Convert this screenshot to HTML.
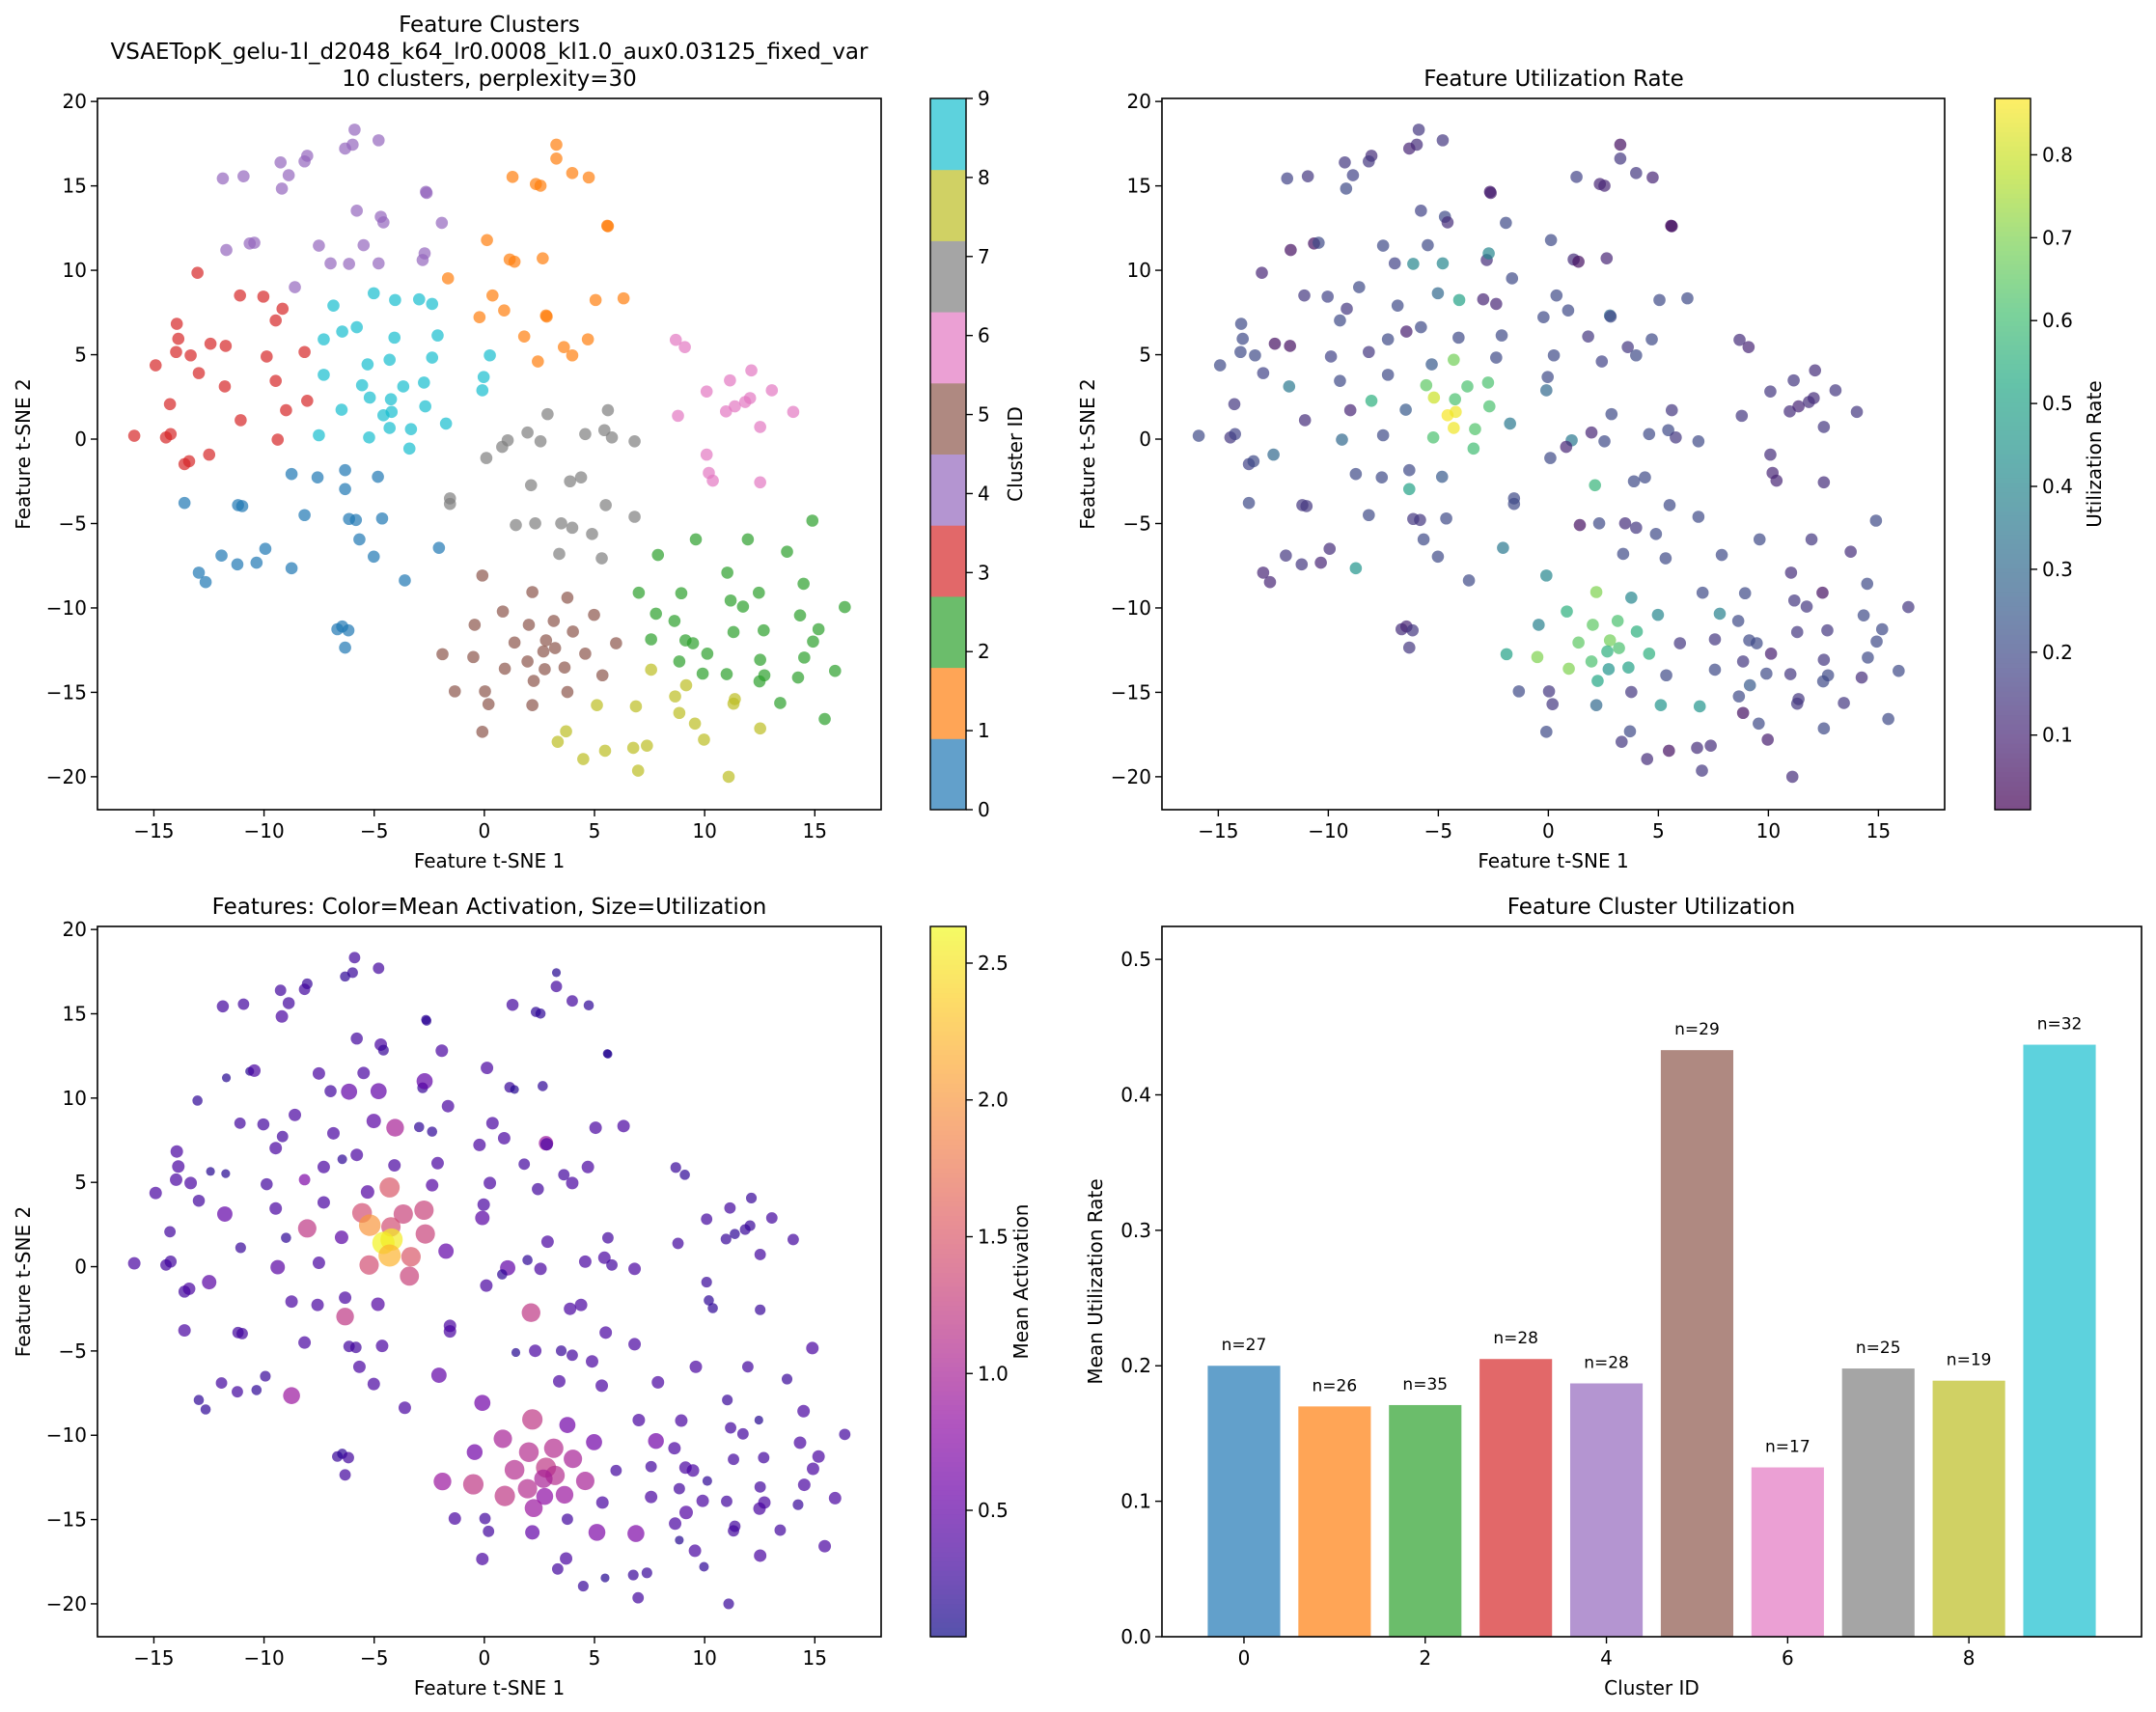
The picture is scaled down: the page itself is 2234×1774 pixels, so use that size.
<!DOCTYPE html>
<html><head><meta charset="utf-8"><style>
html,body{margin:0;padding:0;background:#fff;}
svg{display:block;font-family:"DejaVu Sans","Liberation Sans",sans-serif;}
</style></head><body>
<svg id="fig" width="2234" height="1774" viewBox="0 0 2234 1774" xmlns="http://www.w3.org/2000/svg"></svg>
<script>
// ---- data (cluster order: 4,1,3,9,0,7,6,5,2,8) ----
const tsneX = [
-5.89,-4.80,-5.98,-6.32,-8.04,-8.16,-9.25,-8.88,-9.19,-11.87,-10.93,-2.65,-2.62,-5.79,-4.70,-4.58,-1.93,-11.71,-10.65,-10.44,-7.51,-5.48,-6.98,-6.14,-4.80,-2.80,-2.71,-8.60,
3.27,3.27,1.28,2.34,2.55,3.99,4.74,5.58,5.61,0.12,1.15,1.37,2.65,-1.65,0.37,5.05,6.32,-0.22,0.90,2.80,2.83,1.81,3.61,4.70,3.99,2.43,
-13.02,-11.09,-10.03,-9.16,-9.47,-13.96,-13.89,-12.43,-11.74,-13.99,-13.33,-9.88,-8.16,-14.92,-12.96,-11.78,-9.47,-8.04,-9.00,-14.27,-11.06,-15.89,-14.45,-14.24,-9.38,-12.49,-13.61,-13.40,
-5.02,-6.85,-4.05,-2.96,-2.37,-7.29,-6.45,-5.79,-4.08,-2.12,-5.30,-4.30,-2.37,-7.29,0.25,-0.03,-5.55,-3.68,-2.74,-5.20,-4.24,-6.48,-2.68,-0.09,-4.58,-4.21,-7.51,-5.23,-4.30,-3.33,-1.74,-3.40,
-8.75,-7.57,-6.32,-4.83,-6.32,-13.61,-11.18,-10.99,-8.16,-6.14,-5.83,-4.64,-5.67,-9.94,-11.93,-11.21,-10.34,-5.02,-2.06,-8.75,-12.96,-12.65,-3.61,-6.67,-6.45,-6.17,-6.32,
2.87,5.61,1.96,1.06,0.81,2.55,0.09,4.58,5.45,5.79,6.82,2.12,3.89,4.39,-1.56,-1.56,5.51,6.82,1.43,2.31,3.49,3.99,4.89,3.40,5.33,
8.69,9.10,12.12,11.15,13.05,10.09,8.79,10.97,11.37,11.84,12.06,14.02,12.52,10.09,10.19,10.37,12.52,
-0.09,2.18,3.77,0.84,3.15,4.98,-0.44,2.02,4.02,1.37,2.80,3.21,5.98,-1.90,-0.50,2.68,4.58,1.96,0.93,2.74,3.64,5.36,2.24,-1.34,0.03,3.77,0.19,2.18,-0.09,
14.89,9.60,11.96,13.74,7.88,11.03,14.49,7.01,8.94,12.46,11.18,11.74,16.36,7.79,8.63,14.33,11.31,12.68,15.17,7.57,9.13,9.47,14.92,10.12,14.52,8.85,12.52,9.91,11.00,12.71,14.24,12.49,15.92,13.43,15.45,
7.57,8.66,9.16,11.37,11.31,5.11,6.88,8.85,9.56,12.52,3.71,3.33,7.38,6.76,9.97,5.48,4.49,6.98,11.09];
const tsneY = [
18.33,17.70,17.44,17.21,16.78,16.45,16.39,15.63,14.84,15.44,15.57,14.65,14.58,13.53,13.17,12.84,12.81,11.20,11.59,11.63,11.46,11.49,10.41,10.38,10.41,10.61,11.00,9.00,
17.44,16.62,15.53,15.11,15.01,15.76,15.50,12.64,12.61,11.79,10.64,10.51,10.71,9.52,8.51,8.24,8.34,7.22,7.62,7.32,7.26,6.08,5.45,5.91,4.96,4.60,
9.85,8.51,8.44,7.72,7.03,6.83,5.94,5.65,5.52,5.16,4.96,4.89,5.16,4.37,3.91,3.12,3.45,2.27,1.71,2.07,1.12,0.20,0.10,0.30,-0.03,-0.92,-1.48,-1.31,
8.64,7.91,8.24,8.28,8.01,5.91,6.37,6.63,6.01,6.14,4.43,4.70,4.83,3.81,4.96,3.68,3.19,3.12,3.35,2.46,2.36,1.74,1.94,2.89,1.41,1.61,0.23,0.10,0.66,0.59,0.92,-0.56,
-2.07,-2.27,-1.84,-2.23,-2.96,-3.78,-3.91,-3.97,-4.50,-4.73,-4.79,-4.70,-5.94,-6.50,-6.90,-7.42,-7.32,-6.96,-6.44,-7.65,-7.91,-8.47,-8.37,-11.26,-11.10,-11.33,-12.35,
1.48,1.71,0.39,-0.07,-0.46,-0.13,-1.12,0.30,0.53,0.10,-0.13,-2.73,-2.50,-2.27,-3.51,-3.84,-3.91,-4.60,-5.09,-4.99,-4.99,-5.25,-5.62,-6.80,-7.06,
5.88,5.45,4.07,3.48,2.89,2.82,1.38,1.64,1.94,2.20,2.43,1.61,0.72,-0.92,-2.00,-2.46,-2.56,
-8.08,-9.06,-9.39,-10.21,-10.77,-10.41,-11.00,-11.00,-11.40,-12.05,-11.92,-12.38,-12.09,-12.74,-12.91,-12.58,-12.71,-13.17,-13.60,-13.63,-13.53,-13.99,-14.32,-14.94,-14.94,-14.98,-15.70,-15.76,-17.34,
-4.83,-5.94,-5.94,-6.67,-6.86,-7.91,-8.57,-9.10,-9.13,-9.10,-9.56,-9.92,-9.95,-10.34,-10.77,-10.44,-11.43,-11.33,-11.26,-11.86,-11.92,-12.09,-11.99,-12.71,-12.94,-13.17,-13.07,-13.89,-13.92,-13.99,-14.12,-14.35,-13.73,-15.63,-16.58,
-13.66,-15.24,-14.58,-15.40,-15.67,-15.76,-15.83,-16.22,-16.85,-17.14,-17.31,-17.93,-18.16,-18.29,-17.80,-18.46,-18.95,-19.64,-20.00];
const clusterId = [
4,4,4,4,4,4,4,4,4,4,4,4,4,4,4,4,4,4,4,4,4,4,4,4,4,4,4,4,
1,1,1,1,1,1,1,1,1,1,1,1,1,1,1,1,1,1,1,1,1,1,1,1,1,1,
3,3,3,3,3,3,3,3,3,3,3,3,3,3,3,3,3,3,3,3,3,3,3,3,3,3,3,3,
9,9,9,9,9,9,9,9,9,9,9,9,9,9,9,9,9,9,9,9,9,9,9,9,9,9,9,9,9,9,9,9,
0,0,0,0,0,0,0,0,0,0,0,0,0,0,0,0,0,0,0,0,0,0,0,0,0,0,0,
7,7,7,7,7,7,7,7,7,7,7,7,7,7,7,7,7,7,7,7,7,7,7,7,7,
6,6,6,6,6,6,6,6,6,6,6,6,6,6,6,6,6,
5,5,5,5,5,5,5,5,5,5,5,5,5,5,5,5,5,5,5,5,5,5,5,5,5,5,5,5,5,
2,2,2,2,2,2,2,2,2,2,2,2,2,2,2,2,2,2,2,2,2,2,2,2,2,2,2,2,2,2,2,2,2,2,2,
8,8,8,8,8,8,8,8,8,8,8,8,8,8,8,8,8,8,8];
const utilization = [
0.15,0.15,0.12,0.1,0.12,0.15,0.15,0.18,0.2,0.18,0.15,0.08,0.08,0.18,0.2,0.12,0.2,0.05,0.05,0.2,0.2,0.2,0.18,0.4,0.4,0.12,0.4,0.2,
0.05,0.15,0.18,0.1,0.1,0.15,0.1,0.05,0.05,0.2,0.12,0.05,0.1,0.2,0.2,0.2,0.2,0.2,0.2,0.3,0.2,0.15,0.15,0.2,0.2,0.18,
0.1,0.15,0.18,0.15,0.2,0.2,0.2,0.05,0.05,0.2,0.2,0.18,0.15,0.2,0.18,0.35,0.2,0.55,0.1,0.15,0.12,0.2,0.15,0.18,0.3,0.3,0.18,0.2,
0.3,0.2,0.5,0.1,0.1,0.2,0.08,0.2,0.2,0.2,0.25,0.68,0.2,0.2,0.2,0.2,0.65,0.62,0.62,0.8,0.62,0.25,0.62,0.3,0.86,0.85,0.2,0.62,0.85,0.63,0.35,0.6,
0.2,0.2,0.2,0.25,0.5,0.2,0.15,0.15,0.2,0.15,0.15,0.2,0.2,0.12,0.15,0.15,0.1,0.2,0.35,0.45,0.1,0.1,0.2,0.12,0.1,0.15,0.15,
0.2,0.15,0.1,0.35,0.1,0.2,0.2,0.2,0.2,0.15,0.2,0.57,0.2,0.2,0.2,0.2,0.2,0.2,0.05,0.2,0.12,0.15,0.2,0.2,0.2,
0.12,0.1,0.12,0.15,0.15,0.15,0.15,0.12,0.1,0.12,0.12,0.15,0.15,0.12,0.1,0.1,0.12,
0.4,0.7,0.4,0.55,0.62,0.4,0.38,0.65,0.55,0.65,0.68,0.62,0.15,0.5,0.7,0.55,0.55,0.62,0.7,0.45,0.5,0.2,0.52,0.2,0.15,0.15,0.15,0.3,0.2,
0.2,0.2,0.15,0.12,0.2,0.12,0.2,0.2,0.2,0.05,0.15,0.15,0.15,0.38,0.2,0.2,0.15,0.15,0.2,0.15,0.2,0.2,0.2,0.08,0.2,0.15,0.15,0.2,0.15,0.2,0.12,0.2,0.2,0.15,0.2,
0.2,0.2,0.25,0.15,0.15,0.45,0.45,0.05,0.2,0.2,0.2,0.15,0.12,0.12,0.08,0.05,0.12,0.15,0.12];
const meanActivation = [
0.3,0.3,0.25,0.2,0.25,0.3,0.3,0.3,0.35,0.3,0.3,0.2,0.2,0.3,0.35,0.25,0.35,0.15,0.15,0.35,0.35,0.35,0.3,0.5,0.5,0.25,0.5,0.35,
0.15,0.3,0.3,0.2,0.2,0.3,0.2,0.15,0.15,0.35,0.25,0.15,0.2,0.35,0.35,0.35,0.35,0.35,0.35,0.9,0.35,0.3,0.3,0.35,0.35,0.3,
0.2,0.3,0.3,0.3,0.35,0.35,0.35,0.15,0.15,0.35,0.35,0.3,0.7,0.35,0.3,0.5,0.35,1.2,0.2,0.3,0.25,0.35,0.3,0.3,0.45,0.45,0.3,0.35,
0.45,0.35,1.0,0.2,0.2,0.35,0.2,0.35,0.35,0.35,0.4,1.5,0.4,0.35,0.35,0.35,1.4,1.3,1.3,2.0,1.4,0.45,1.3,0.45,2.6,2.55,0.35,1.4,2.2,1.5,0.5,1.3,
0.35,0.35,0.35,0.4,1.2,0.35,0.3,0.3,0.35,0.3,0.3,0.35,0.35,0.25,0.3,0.3,0.2,0.35,0.5,0.9,0.2,0.2,0.35,0.25,0.2,0.3,0.3,
0.35,0.3,0.2,0.5,0.2,0.35,0.35,0.35,0.35,0.3,0.35,1.2,0.35,0.35,0.35,0.35,0.35,0.35,0.15,0.35,0.25,0.3,0.35,0.35,0.35,
0.25,0.2,0.25,0.3,0.3,0.3,0.3,0.25,0.2,0.25,0.25,0.3,0.3,0.25,0.2,0.2,0.25,
0.6,1.2,0.6,1.0,1.1,0.6,0.6,1.1,1.0,1.1,1.2,1.1,0.3,0.9,1.2,1.0,1.0,1.1,1.2,0.8,0.9,0.35,0.9,0.35,0.3,0.3,0.3,0.5,0.35,
0.35,0.35,0.3,0.25,0.35,0.25,0.35,0.35,0.35,0.15,0.3,0.3,0.3,0.6,0.35,0.35,0.3,0.3,0.35,0.3,0.35,0.35,0.35,0.2,0.35,0.3,0.3,0.35,0.3,0.35,0.25,0.35,0.35,0.3,0.35,
0.35,0.35,0.4,0.3,0.3,0.7,0.7,0.15,0.35,0.35,0.35,0.3,0.25,0.25,0.2,0.15,0.25,0.3,0.25];
const barClusters = [0,1,2,3,4,5,6,7,8,9];
const barValues = [0.200,0.170,0.171,0.205,0.187,0.433,0.125,0.198,0.189,0.437];
const barCounts = ["n=27","n=26","n=35","n=28","n=28","n=29","n=17","n=25","n=19","n=32"];
const scatterXTicks = [-15,-10,-5,0,5,10,15];
const scatterYTicks = [-20,-15,-10,-5,0,5,10,15,20];
const utilTicks = [0.1,0.2,0.3,0.4,0.5,0.6,0.7,0.8];
const actTicks = [0.5,1.0,1.5,2.0,2.5];
const barYTicks = [0.0,0.1,0.2,0.3,0.4,0.5];
const barXTicks = [0,2,4,6,8];

const tab10 = ["#1f77b4","#ff7f0e","#2ca02c","#d62728","#9467bd","#8c564b","#e377c2","#7f7f7f","#bcbd22","#17becf"];
const viridis = ["#440154","#482475","#414487","#355f8d","#2a788e","#21918c","#22a884","#44bf70","#7ad151","#bddf26","#fde725"];
const plasma = ["#0d0887","#41049d","#6a00a8","#8f0da4","#b12a90","#cc4778","#e16462","#f2844b","#fca636","#fcce25","#f0f921"];

const NS = "http://www.w3.org/2000/svg";
const svg = document.getElementById('fig');
function el(tag, attrs, parent){ const e=document.createElementNS(NS,tag); for(const k in attrs) e.setAttribute(k,attrs[k]); (parent||svg).appendChild(e); return e; }
function txt(s, attrs, parent){ const e=el('text',attrs,parent); e.textContent=s; return e; }
function hex2rgb(h){return [parseInt(h.slice(1,3),16),parseInt(h.slice(3,5),16),parseInt(h.slice(5,7),16)];}
function cmapRGB(stops,t){ t=Math.max(0,Math.min(1,t)); const p=t*(stops.length-1); const i=Math.min(Math.floor(p),stops.length-2); const f=p-i; const a=hex2rgb(stops[i]), b=hex2rgb(stops[i+1]); return a.map((v,k)=>v+(b[k]-v)*f); }
function cmap(stops,t){ return 'rgb('+cmapRGB(stops,t).map(Math.round).join(',')+')'; }
function cmapBlend(stops,t,a){ return 'rgb('+cmapRGB(stops,t).map(v=>Math.round(v*a+255*(1-a))).join(',')+')'; }
function blendHex(h,a){ return 'rgb('+hex2rgb(h).map(v=>Math.round(v*a+255*(1-a))).join(',')+')'; }
function fmtNum(v,d){ const s=v.toFixed(d); return s.replace('-','\u2212'); }

const PX = {L:101,R:913}; const PX2={L:1204,R:2015};
const TOP={T:102,B:839}, BOT={T:960,B:1696};
const XMIN=-17.56, XMAX=18.01, YMIN=-21.95, YMAX=20.18;
function sx(ax,v){ return ax.L + (v-XMIN)/(XMAX-XMIN)*(ax.R-ax.L); }
function sy(ay,v){ return ay.B - (v-YMIN)/(YMAX-YMIN)*(ay.B-ay.T); }

function frame(ax,ay,name){
  const r=el('rect',{x:ax.L,y:ay.T,width:ax.R-ax.L,height:ay.B-ay.T,fill:'none',stroke:'#000','stroke-width':1.6});
  
  
}
function scatterAxes(ax,ay,prefix,xlabel,ylabel){
  const g=el('g',{});
  
  
  scatterXTicks.forEach(v=>{ const x=sx(ax,v);
    el('line',{x1:x,x2:x,y1:ay.B,y2:ay.B+7,stroke:'#000','stroke-width':1.4},g);
    const t=txt(fmtNum(v,0),{x:x,y:ay.B+29,'font-size':20,'text-anchor':'middle'},g);
    
    
  });
  scatterYTicks.forEach(v=>{ const y=sy(ay,v);
    el('line',{x1:ax.L-7,x2:ax.L,y1:y,y2:y,stroke:'#000','stroke-width':1.4},g);
    const t=txt(fmtNum(v,0),{x:ax.L-11,y:y+7,'font-size':20,'text-anchor':'end'},g);
    
    
  });
  const xl=txt(xlabel,{x:(ax.L+ax.R)/2,y:ay.B+60,'font-size':20,'text-anchor':'middle'});
  
  
  const yc=(ay.T+ay.B)/2;
  const yl=txt(ylabel,{x:ax.L-70,y:yc,'font-size':20,'text-anchor':'middle',transform:'rotate(-90 '+(ax.L-70)+' '+yc+')'});
  
  
}
function colorbar(x,ay,stops,vmin,vmax,ticks,dec,label,name,loff){
  const g=el('g',{});
  
  
  const w=37, h=ay.B-ay.T, n=150;
  for(let i=0;i<n;i++){
    const t=(i+0.5)/n;
    el('rect',{x:x,y:ay.B-(i+1)*h/n,width:w,height:h/n+0.6,fill:cmapBlend(stops,t,0.7)},g);
  }
  el('rect',{x:x,y:ay.T,width:w,height:h,fill:'none',stroke:'#000','stroke-width':1.4},g);
  ticks.forEach(v=>{ const y=ay.B-(v-vmin)/(vmax-vmin)*h;
    el('line',{x1:x+w,x2:x+w+7,y1:y,y2:y,stroke:'#000','stroke-width':1.4},g);
    const t=txt(v.toFixed(dec),{x:x+w+12,y:y+7,'font-size':20},g);
    
    
  });
  const lx=x+w+loff, ly=(ay.T+ay.B)/2;
  const l=txt(label,{x:lx,y:ly,'font-size':20,'text-anchor':'middle',transform:'rotate(-90 '+lx+' '+ly+')'},g);
  
  
}
function title(lines,cx,y0,name){
  lines.forEach((s,i)=>{ const t=txt(s,{x:cx,y:y0+i*28,'font-size':23,'text-anchor':'middle'});
    
     });
}

// ---- Panel 1: clusters ----
title(["Feature Clusters","VSAETopK_gelu-1l_d2048_k64_lr0.0008_kl1.0_aux0.03125_fixed_var","10 clusters, perplexity=30"],507,33,'cluster-plot-title');
for(let i=0;i<tsneX.length;i++){
  const c=el('circle',{cx:sx(PX,tsneX[i]),cy:sy(TOP,tsneY[i]),r:6.3,fill:tab10[clusterId[i]],opacity:0.7});
  
  
}
frame(PX,TOP,'cluster-plot-frame');
scatterAxes(PX,TOP,'cluster-plot','Feature t-SNE 1','Feature t-SNE 2');
(function(){
  const g=el('g',{});
  
  
  const x=964,w=37,h=TOP.B-TOP.T;
  for(let k=0;k<10;k++){ el('rect',{x:x,y:TOP.B-(k+1)*h/10,width:w,height:h/10+0.5,fill:blendHex(tab10[k],0.7)},g); }
  el('rect',{x:x,y:TOP.T,width:w,height:h,fill:'none',stroke:'#000','stroke-width':1.4},g);
  for(let v=0;v<=9;v++){ const y=TOP.B-v/9*h;
    el('line',{x1:x+w,x2:x+w+7,y1:y,y2:y,stroke:'#000','stroke-width':1.4},g);
    const t=txt(String(v),{x:x+w+12,y:y+7,'font-size':20},g);
    
     }
  const lx=x+w+58, ly=(TOP.T+TOP.B)/2;
  const l=txt('Cluster ID',{x:lx,y:ly,'font-size':20,'text-anchor':'middle',transform:'rotate(-90 '+lx+' '+ly+')'},g);
  
  
})();

// ---- Panel 2: utilization ----
const UMIN=0.010, UMAX=0.868;
title(["Feature Utilization Rate"],1610,89,'utilization-plot-title');
for(let i=0;i<tsneX.length;i++){
  const c=el('circle',{cx:sx(PX2,tsneX[i]),cy:sy(TOP,tsneY[i]),r:6.3,fill:cmap(viridis,(utilization[i]-UMIN)/(UMAX-UMIN)),opacity:0.7});
  
  
}
frame(PX2,TOP,'utilization-plot-frame');
scatterAxes(PX2,TOP,'utilization-plot','Feature t-SNE 1','Feature t-SNE 2');
colorbar(2067,TOP,viridis,UMIN,UMAX,utilTicks,1,'Utilization Rate','utilization-colorbar',73);

// ---- Panel 3: activation ----
const AMIN=0.038, AMAX=2.634;
title(["Features: Color=Mean Activation, Size=Utilization"],507,947,'activation-plot-title');
for(let i=0;i<tsneX.length;i++){
  const r=Math.sqrt(14+140*utilization[i]);
  const c=el('circle',{cx:sx(PX,tsneX[i]),cy:sy(BOT,tsneY[i]),r:r,fill:cmap(plasma,(meanActivation[i]-AMIN)/(AMAX-AMIN)),opacity:0.7});
  
  
}
frame(PX,BOT,'activation-plot-frame');
scatterAxes(PX,BOT,'activation-plot','Feature t-SNE 1','Feature t-SNE 2');
colorbar(964,BOT,plasma,AMIN,AMAX,actTicks,1,'Mean Activation','activation-colorbar',64);

// ---- Panel 4: bar chart ----
const BX={L:1204,R:2219};
const BXMIN=-0.905, BXMAX=9.905, BYMAX=0.5243;
function bx(v){ return BX.L+(v-BXMIN)/(BXMAX-BXMIN)*(BX.R-BX.L); }
function by(v){ return BOT.B - v/BYMAX*(BOT.B-BOT.T); }
title(["Feature Cluster Utilization"],1711,947,'bar-chart-title');
barClusters.forEach((c,i)=>{
  const x0=bx(c-0.4), x1=bx(c+0.4), y=by(barValues[i]);
  const b=el('rect',{x:x0,y:y,width:x1-x0,height:BOT.B-y,fill:blendHex(tab10[c],0.7)});
  
  
  const t=txt(barCounts[i],{x:(x0+x1)/2,y:by(barValues[i]+0.01)-2,'font-size':17,'text-anchor':'middle'});
  
  
});
frame(BX,BOT,'bar-chart-frame');
barXTicks.forEach(v=>{ const x=bx(v);
  el('line',{x1:x,x2:x,y1:BOT.B,y2:BOT.B+7,stroke:'#000','stroke-width':1.4});
  const t=txt(String(v),{x:x,y:BOT.B+29,'font-size':20,'text-anchor':'middle'});
  
   });
barYTicks.forEach(v=>{ const y=by(v);
  el('line',{x1:BX.L-7,x2:BX.L,y1:y,y2:y,stroke:'#000','stroke-width':1.4});
  const t=txt(v.toFixed(1),{x:BX.L-11,y:y+7,'font-size':20,'text-anchor':'end'});
  
   });
(function(){
  const xl=txt('Cluster ID',{x:(BX.L+BX.R)/2,y:BOT.B+60,'font-size':20,'text-anchor':'middle'});
  
  
  const lx=BX.L-62, ly=(BOT.T+BOT.B)/2;
  const yl=txt('Mean Utilization Rate',{x:lx,y:ly,'font-size':20,'text-anchor':'middle',transform:'rotate(-90 '+lx+' '+ly+')'});
  
  
})();
</script>
</body></html>
